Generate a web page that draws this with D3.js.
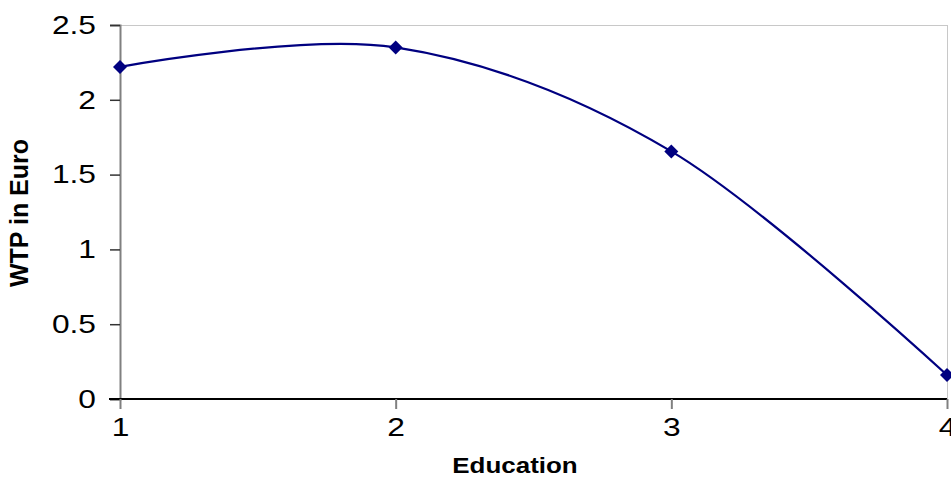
<!DOCTYPE html>
<html><head><meta charset="utf-8">
<script src="https://cdn.jsdelivr.net/npm/d3@7"></script>
<style>body{margin:0;background:#fff}svg{display:block}</style>
</head><body>
<svg id="c" width="951" height="499"></svg>
<script>
const education = [1, 2, 3, 4];
const wtp = [2.22, 2.35, 1.655, 0.16];
const yTicks = [0, 0.5, 1, 1.5, 2, 2.5];
const xTicks = [1, 2, 3, 4];

const FONT = "Liberation Sans, Arial, sans-serif";
const svg = d3.select("#c");
const x = d3.scaleLinear().domain([1, 4]).range([120, 947]);
const y = d3.scaleLinear().domain([0, 2.5]).range([399, 25]);

function stretch(sel, k) {
  sel.each(function () {
    const w = this.getComputedTextLength();
    d3.select(this).attr("textLength", w * k).attr("lengthAdjust", "spacingAndGlyphs");
  });
}

// frame (top and right)
svg.append("line").attr("x1", 120).attr("x2", 947).attr("y1", 25.5).attr("y2", 25.5).attr("stroke", "#c8c8c8").attr("stroke-width", 1);
svg.append("line").attr("x1", 947.5).attr("x2", 947.5).attr("y1", 25).attr("y2", 399).attr("stroke", "#c8c8c8").attr("stroke-width", 1);

// y axis
const yAxis = d3.axisLeft(y).tickValues(yTicks).tickSize(10).tickPadding(14).tickFormat(d3.format(""));
const gy = svg.append("g").attr("transform", "translate(120,0)").call(yAxis);
gy.select(".domain").attr("stroke", "#808080").attr("stroke-width", 2);
gy.selectAll(".tick line").attr("stroke", "#333").attr("stroke-width", 1.5);
gy.selectAll("text").attr("font-family", FONT).attr("font-size", 26).attr("fill", "#000");
stretch(gy.selectAll("text"), 1.22);

// x axis
const xAxis = d3.axisBottom(x).tickValues(xTicks).tickSize(10).tickPadding(9).tickFormat(d3.format("d"));
const gx = svg.append("g").attr("transform", "translate(0,399)").call(xAxis);
gx.select(".domain").attr("stroke", "#000").attr("stroke-width", 2).attr("d", "M109,0H947");
gx.selectAll(".tick line").attr("stroke", "#808080").attr("stroke-width", 2);
gx.selectAll("text").attr("font-family", FONT).attr("font-size", 26).attr("fill", "#000");
stretch(gx.selectAll("text"), 1.22);

// line
const line = d3.line().x((d, i) => x(education[i])).y(d => y(d)).curve(d3.curveCardinal.tension(0));
svg.append("path").datum(wtp).attr("d", line).attr("fill", "none").attr("stroke", "#000080").attr("stroke-width", 2.2);

// markers
svg.selectAll(".m").data(wtp).enter().append("path")
  .attr("transform", (d, i) => `translate(${x(education[i])},${y(d)})`)
  .attr("d", "M0,-7L7,0L0,7L-7,0Z").attr("fill", "#000080");

// titles
const xt = svg.append("text").attr("x", 515).attr("y", 473).attr("text-anchor", "middle")
  .attr("font-family", FONT).attr("font-weight", "bold").attr("font-size", 22).text("Education");
stretch(xt, 1.18);
svg.append("text").attr("transform", "translate(28,213) rotate(-90)").attr("text-anchor", "middle")
  .attr("font-family", FONT).attr("font-weight", "bold").attr("font-size", 25).text("WTP in Euro");
</script>
</body></html>
